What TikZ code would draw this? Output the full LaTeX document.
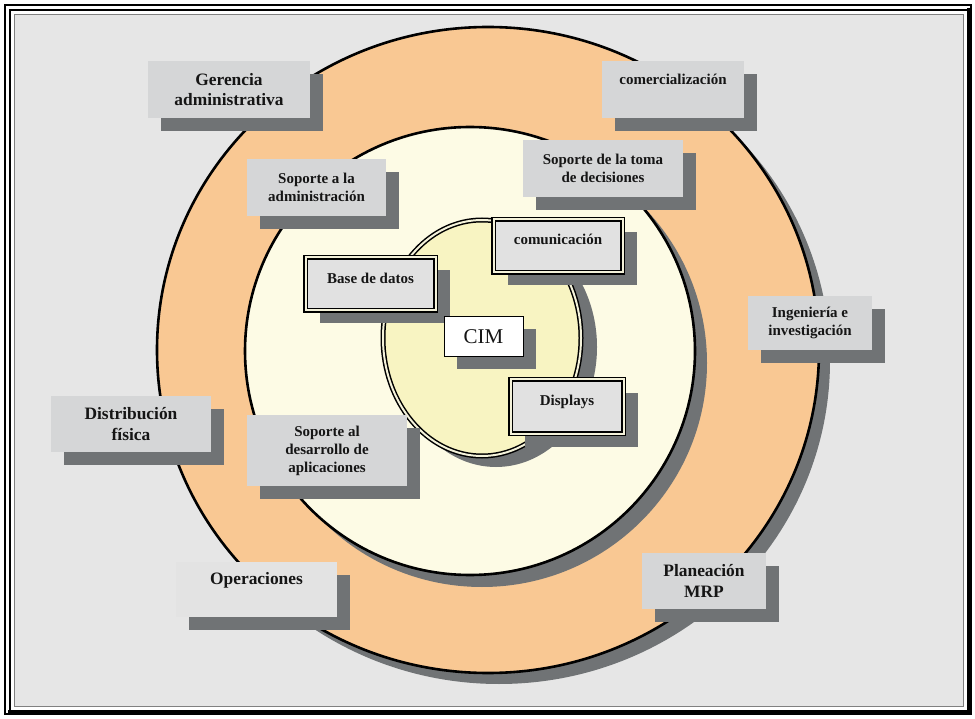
\documentclass[tikz,border=0pt]{standalone}
\usepackage{fontspec}
\setmainfont{Liberation Serif}
\usetikzlibrary{shadows}

\definecolor{pagebg}{HTML}{E6E6E6}
\definecolor{peach}{HTML}{F9C893}
\definecolor{cream}{HTML}{FDFBE5}
\definecolor{paleyellow}{HTML}{F8F4C2}
\definecolor{shadowgray}{HTML}{707375}
\definecolor{boxgray}{HTML}{D5D6D7}
\definecolor{lightbox}{HTML}{E3E3E3}
\definecolor{innerbox}{HTML}{E1E1E1}
\definecolor{gapcol}{HTML}{F4F2DA}
\definecolor{txt}{HTML}{151515}

\begin{document}
\begin{tikzpicture}[x=1pt,y=-1pt,
  smalltext/.style={font=\bfseries\fontsize{15}{18}\selectfont, text=txt, align=center},
  bigtext/.style={font=\bfseries\fontsize{17.4}{20.5}\selectfont, text=txt, align=center},
  panel/.style={fill=boxgray, inner sep=0pt,
    drop shadow={shadow xshift=13pt, shadow yshift=-13pt, fill=shadowgray, opacity=1}},
  framed/.style={fill=innerbox, draw=black, line width=1.5pt, double=gapcol,
    double distance=2pt, inner sep=0pt,
    drop shadow={shadow xshift=14pt, shadow yshift=-13pt, fill=shadowgray, opacity=1}},
  cimbox/.style={fill=white, draw=black, line width=1pt, inner sep=0pt,
    font=\fontsize{21}{24}\selectfont, text=txt,
    drop shadow={shadow xshift=13pt, shadow yshift=-12pt, fill=shadowgray, opacity=1}},
]
\useasboundingbox (0,0) rectangle (975,719);

% page and frame
\fill[white] (0,0) rectangle (975,719);
\fill[pagebg] (14.5,14.5) rectangle (963.5,706.5);
\draw[black, line width=1.8pt] (5,5) rectangle (971,714);
\draw[black, line width=2pt] (10,10) rectangle (968,711);
\draw[black, line width=4pt] (969.3,8) -- (969.3,712.3) -- (8,712.3);
\draw[gray, line width=1pt] (14.5,14.5) rectangle (963.5,706.5);

% outer ring
\fill[shadowgray] (499,361) ellipse [x radius=331, y radius=323];
\draw[fill=peach, line width=2.6pt] (488,350) ellipse [x radius=331, y radius=323];

% middle disc
\fill[shadowgray] (482,363) ellipse [x radius=225, y radius=224];
\draw[fill=cream, line width=2.6pt] (470,351) ellipse [x radius=225, y radius=224];

% core ellipse
\fill[shadowgray] (496,347) ellipse [x radius=101, y radius=120];
\draw[fill=paleyellow, line width=1.5pt, double=gapcol, double distance=2pt]
  (482,338) ellipse [x radius=99, y radius=118];

% outer ring panels
\node[panel, bigtext, minimum width=162pt, minimum height=57pt] (ger) at (229,89.5)
  {Gerencia\\administrativa};
\node[panel, minimum width=142pt, minimum height=57pt] (com) at (673,89.5) {};
\node[smalltext] (comt) at ([yshift=10pt]com.center) {comercializaci\'on};
\node[panel, smalltext, minimum width=124pt, minimum height=54pt] (ing) at (810,323)
  {Ingenier\'ia e\\investigaci\'on};
\node[panel, bigtext, minimum width=160pt, minimum height=56pt] (dis) at (131,424)
  {Distribuci\'on\\f\'isica};
\node[panel, fill=lightbox, minimum width=161pt, minimum height=55pt] (ope) at (256.5,589.5) {};
\node[bigtext] (opet) at ([yshift=9pt]ope.center) {Operaciones};
\node[panel, bigtext, minimum width=124pt, minimum height=56pt] (pla) at (704,581)
  {Planeaci\'on\\MRP};

% middle disc panels
\node[panel, smalltext, minimum width=139pt, minimum height=57pt] (sad) at (316.5,187.5)
  {Soporte a la\\administraci\'on};
\node[panel, smalltext, minimum width=160pt, minimum height=57pt] (std) at (603,168.5)
  {Soporte de la toma\\de decisiones};
\node[panel, smalltext, minimum width=160pt, minimum height=71pt] (sda) at (327,450.5)
  {Soporte al\\desarrollo de\\aplicaciones};

% core panels
\node[framed, minimum width=130pt, minimum height=53pt] (bdd) at (370.5,284) {};
\node[smalltext] (bddt) at ([yshift=6pt]bdd.center) {Base de datos};
\node[framed, minimum width=129pt, minimum height=53pt] (cmn) at (558,246) {};
\node[smalltext] (cmnt) at ([yshift=7pt]cmn.center) {comunicaci\'on};
\node[framed, minimum width=113pt, minimum height=54pt] (dsp) at (567,406.5) {};
\node[smalltext] (dspt) at ([yshift=5pt]dsp.center) {Displays};
\node[cimbox, minimum width=79pt, minimum height=40pt] (cim) at (483.5,337) {CIM};
\end{tikzpicture}
\end{document}
